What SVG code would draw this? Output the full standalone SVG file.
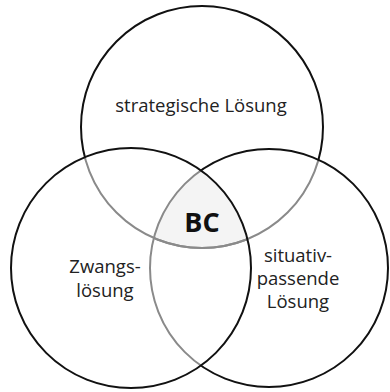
<svg xmlns="http://www.w3.org/2000/svg" width="390" height="392" viewBox="0 0 390 392">
  <style>
    .outer { fill: none; stroke: #111; stroke-width: 2; }
    .inner { fill: none; stroke: #8a8a8a; stroke-width: 2; }
    .label { font-family: "Open Sans", "Noto Sans", sans-serif; font-size: 18.5px; fill: #222; text-anchor: middle; }
    .core { font-family: "Open Sans", "Noto Sans", sans-serif; font-size: 27px; font-weight: bold; fill: #111; text-anchor: middle; }
  </style>
  <defs>
    <circle id="cT" cx="202" cy="127" r="121"/>
    <circle id="cL" cx="131" cy="268" r="120"/>
    <circle id="cR" cx="269" cy="268" r="119"/>
    <clipPath id="inL"><use href="#cL"/></clipPath>
    <clipPath id="inR"><use href="#cR"/></clipPath>
    <clipPath id="inLR" clip-path="url(#inL)"><use href="#cR"/></clipPath>
    <!-- top circle: visible outside both lower circles -->
    <mask id="outLR" maskUnits="userSpaceOnUse" x="0" y="0" width="390" height="392">
      <rect x="0" y="0" width="390" height="392" fill="#fff"/>
      <use href="#cL" fill="#000"/>
      <use href="#cR" fill="#000"/>
    </mask>
    <!-- right circle: visible outside the left circle -->
    <mask id="outL" maskUnits="userSpaceOnUse" x="0" y="0" width="390" height="392">
      <rect x="0" y="0" width="390" height="392" fill="#fff"/>
      <use href="#cL" fill="#000"/>
    </mask>
  </defs>

  <rect width="390" height="392" fill="#fff"/>

  <!-- shared core of all three circles -->
  <use href="#cT" fill="#f4f4f4" clip-path="url(#inLR)"/>

  <g id="strategisch">
    <use href="#cT" class="outer" mask="url(#outLR)"/>
    <use href="#cT" class="inner" clip-path="url(#inL)"/>
    <use href="#cT" class="inner" clip-path="url(#inR)"/>
    <text class="label" x="201" y="112">strategische Lösung</text>
  </g>

  <g id="situativ">
    <use href="#cR" class="outer" mask="url(#outL)"/>
    <use href="#cR" class="inner" clip-path="url(#inL)"/>
    <text class="label" x="298" y="262">situativ-</text>
    <text class="label" x="298" y="285">passende</text>
    <text class="label" x="298" y="308">Lösung</text>
  </g>

  <g id="zwang">
    <use href="#cL" class="outer"/>
    <text class="label" x="105" y="273">Zwangs-</text>
    <text class="label" x="105" y="297">lösung</text>
  </g>

  <g id="bc">
    <text class="core" x="202" y="232">BC</text>
  </g>
</svg>
